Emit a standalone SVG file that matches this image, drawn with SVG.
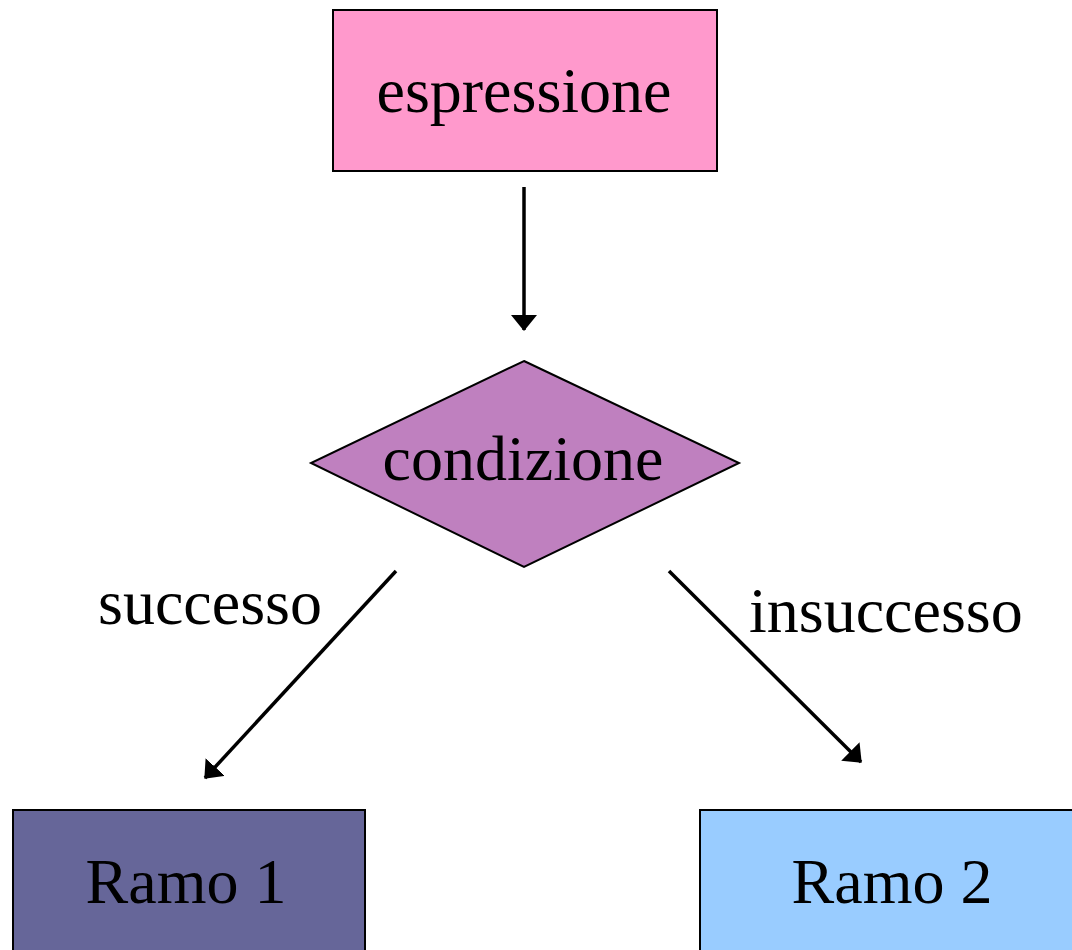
<svg xmlns="http://www.w3.org/2000/svg" width="1072" height="950" viewBox="0 0 1072 950">
  <style>
    .box { stroke: #000; stroke-width: 2; }
    .lbl { font-family: "Liberation Serif", "Times New Roman", serif; font-size: 64px; fill: #000; }
    .mid { text-anchor: middle; }
    .edge { stroke: #000; stroke-width: 3.5; fill: none; marker-end: url(#head); }
  </style>
  <defs>
    <marker id="head" viewBox="0 0 16 26" refX="15" refY="13" markerUnits="userSpaceOnUse" markerWidth="16" markerHeight="26" orient="auto">
      <path d="M0,0 L16,13 L0,26 z" fill="#000"/>
    </marker>
  </defs>
  <rect width="1072" height="950" fill="#fff"/>

  <g id="espressione">
    <rect class="box" x="333" y="10" width="384" height="161" fill="#FF99CC"/>
    <text class="lbl mid" x="524" y="112">espressione</text>
  </g>

  <g id="condizione">
    <polygon class="box" points="524,361 739,463 524,567 311,463" fill="#BF80BF" stroke-width="1.5"/>
    <text class="lbl mid" x="523" y="480">condizione</text>
  </g>

  <g id="ramo1">
    <rect class="box" x="13" y="810" width="352" height="160" fill="#666699"/>
    <text class="lbl mid" x="186" y="903">Ramo 1</text>
  </g>

  <g id="ramo2">
    <rect class="box" x="700" y="810" width="384" height="160" fill="#99CCFF"/>
    <text class="lbl mid" x="892" y="903">Ramo 2</text>
  </g>

  <g id="connectors">
    <line class="edge" x1="524" y1="187" x2="524" y2="330"/>
    <line class="edge" x1="396" y1="571" x2="205" y2="778"/>
    <line class="edge" x1="669" y1="571" x2="861" y2="762"/>
    <text class="lbl" x="98" y="624">successo</text>
    <text class="lbl" x="749" y="632">insuccesso</text>
  </g>
</svg>
